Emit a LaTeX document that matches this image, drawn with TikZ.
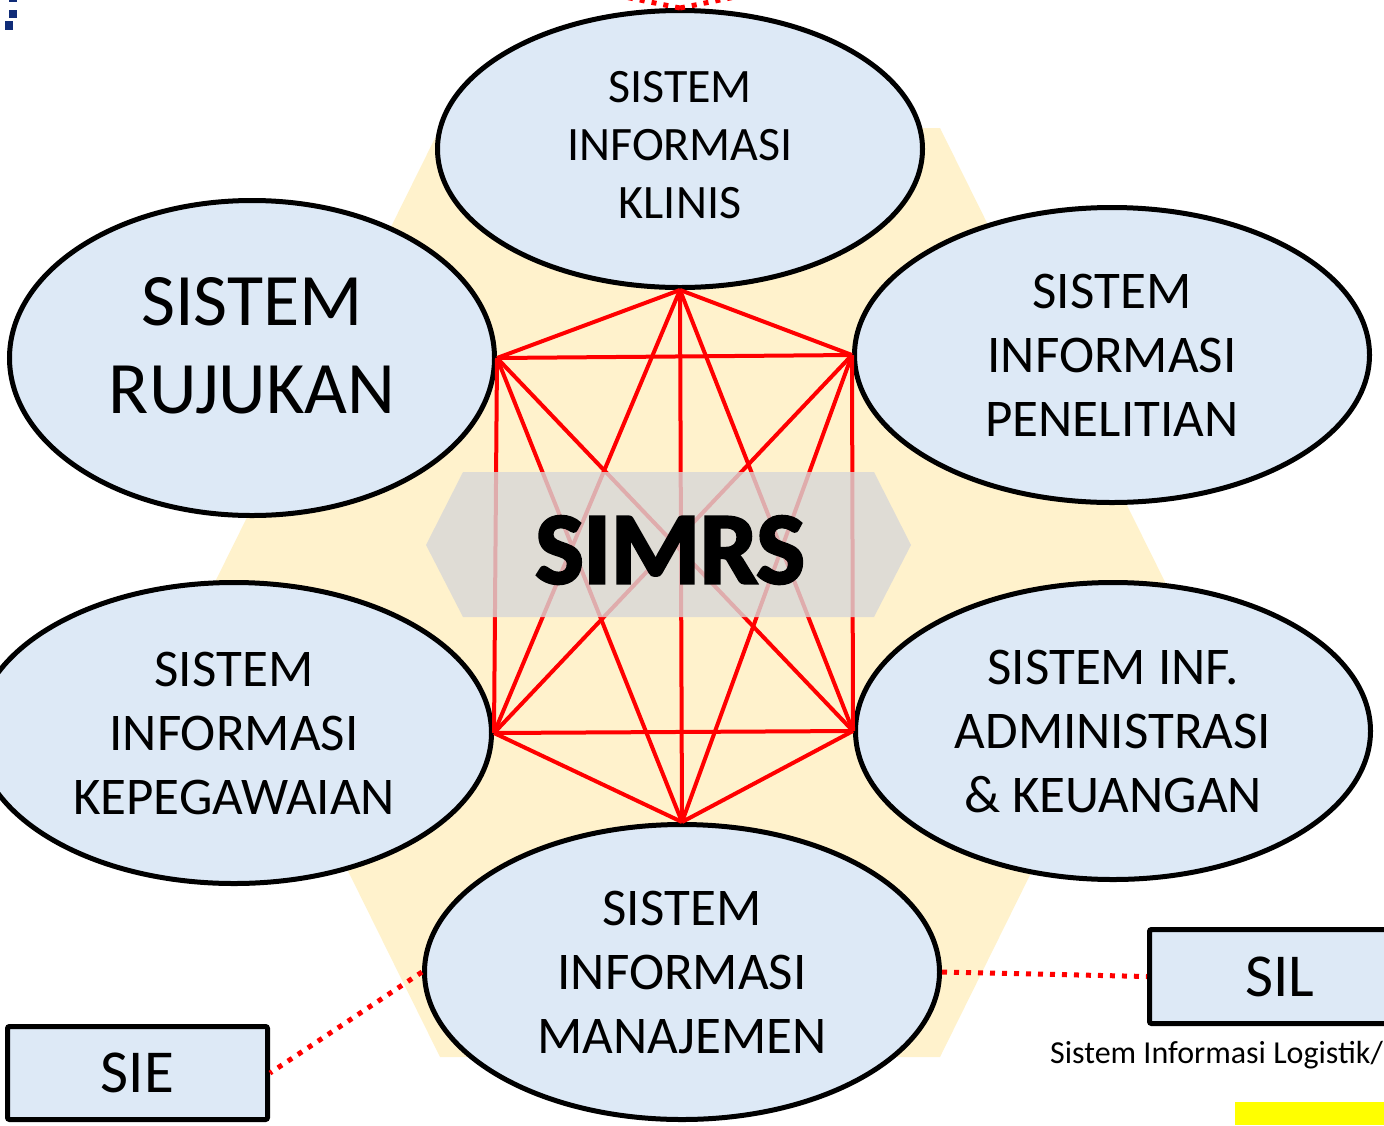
\documentclass[tikz,border=0pt]{standalone}
\usepackage{fontspec}
\setmainfont{Carlito}
\newfontface\simrsfont[FakeBold=3]{Carlito Bold}
\usetikzlibrary{shapes.geometric}
\definecolor{ellfill}{RGB}{221,233,246}
\definecolor{hexyellow}{RGB}{255,242,204}
\definecolor{hexgray}{RGB}{216,215,216}
\definecolor{navy}{RGB}{16,44,120}
\definecolor{hiyellow}{RGB}{255,255,0}
\begin{document}
\begin{tikzpicture}[x=1pt,y=-1pt,
  sysell/.style={ellipse, draw=black, line width=5pt, fill=ellfill, inner sep=0pt, align=center},
  smalltxt/.style={font=\fontsize{48}{58}\selectfont},
  midtxt/.style={font=\fontsize{53}{64}\selectfont},
  bigtxt/.style={font=\fontsize{74}{88}\selectfont},
  net/.style={red, line width=4pt},
  dotlink/.style={red, line width=5pt, dash pattern=on 5pt off 7pt},
  sysbox/.style={draw=black, line width=5pt, fill=ellfill, rounded corners=2pt, inner sep=0pt, font=\fontsize{61}{70}\selectfont}
]
\useasboundingbox (0,0) rectangle (1384,1125);
\clip (0,0) rectangle (1384,1125);
% background hexagon
\fill[hexyellow] (440,128) -- (940,128) -- (1170,592) -- (940,1057) -- (440,1057) -- (210,592) -- cycle;
% fragments at the edges
\fill[navy] (9,-2) rectangle (17,2);
\fill[navy] (9,10) rectangle (17,18);
\fill[navy] (5,21) rectangle (13,30);
\fill[hiyellow] (1235,1102) rectangle (1384,1125);
% systems
\node[sysell, smalltxt, minimum width=485pt, minimum height=277pt, label={[smalltxt, align=center, name=kt, yshift=4pt]center:SISTEM\\INFORMASI\\KLINIS}] (k) at (680,149) {};
\node[sysell, minimum width=485pt, minimum height=315pt, label={[bigtxt, align=center, name=rt, yshift=12pt]center:SISTEM\\RUJUKAN}] (r) at (252,358) {};
\node[sysell, midtxt, minimum width=515pt, minimum height=295pt] (p) at (1112,355) {SISTEM\\INFORMASI\\PENELITIAN};
\node[sysell, midtxt, minimum width=515pt, minimum height=301pt] (g) at (234,733) {SISTEM\\INFORMASI\\KEPEGAWAIAN};
\node[sysell, midtxt, minimum width=515pt, minimum height=297pt] (a) at (1113,731) {SISTEM INF.\\ADMINISTRASI\\\& KEUANGAN};
\node[sysell, midtxt, minimum width=515pt, minimum height=295pt] (m) at (682,972) {SISTEM\\INFORMASI\\MANAJEMEN};
% top dotted connectors
\coordinate (topL) at (590,-10);
\coordinate (topR) at (770,-10);
\draw[dotlink] (k.north) -- (topL);
\draw[dotlink] (k.north) -- (topR);
% network
\draw[net] (k.south) -- (r.east);
\draw[net] (k.south) -- (p.west);
\draw[net] (k.south) -- (g.east);
\draw[net] (k.south) -- (a.west);
\draw[net] (k.south) -- (m.north);
\draw[net] (r.east) -- (p.west);
\draw[net] (r.east) -- (g.east);
\draw[net] (r.east) -- (a.west);
\draw[net] (r.east) -- (m.north);
\draw[net] (p.west) -- (g.east);
\draw[net] (p.west) -- (a.west);
\draw[net] (p.west) -- (m.north);
\draw[net] (g.east) -- (a.west);
\draw[net] (g.east) -- (m.north);
\draw[net] (a.west) -- (m.north);
% central label
\fill[hexgray, fill opacity=0.8] (426,545) -- (463,472) -- (874,472) -- (911,545) -- (874,617) -- (463,617) -- cycle;
\node[font=\simrsfont\fontsize{102}{120}\selectfont, inner sep=0pt] (simrs) at (670,550) {SIMRS};
% boxes
\node[sysbox, minimum width=260pt, minimum height=93pt] (sie) at (137.5,1073) {SIE};
\node[sysbox, minimum width=261pt, minimum height=94pt] (sil) at (1280,976.5) {SIL};
\node[anchor=west, inner sep=0pt, font=\fontsize{32}{38}\selectfont] (silnote) at (1050,1055) {Sistem Informasi Logistik/};
\draw[dotlink] (m.west) -- (sie.east);
\draw[dotlink] (m.east) -- (sil.west);
\end{tikzpicture}
\end{document}
